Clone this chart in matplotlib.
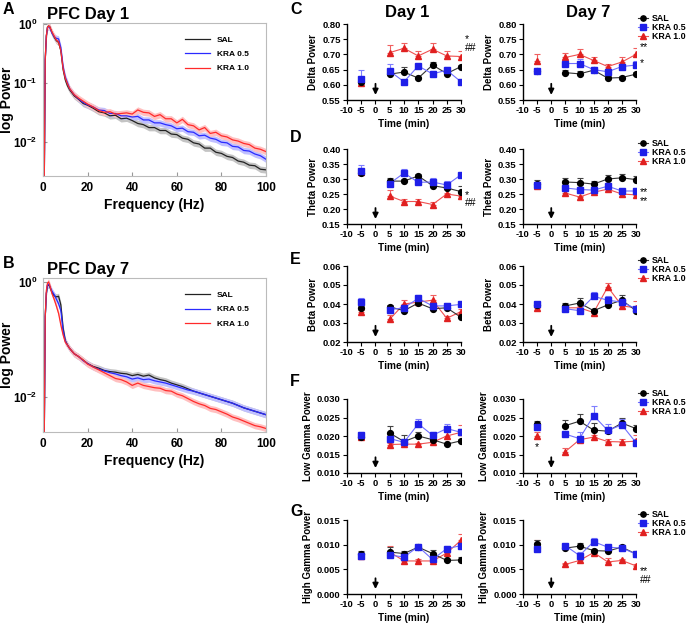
import numpy as np
import matplotlib.pyplot as plt
from matplotlib.lines import Line2D

plt.rcParams['font.family'] = ['Liberation Sans', 'DejaVu Sans']
plt.rcParams['font.weight'] = 'bold'
plt.rcParams['axes.labelweight'] = 'bold'
plt.rcParams['axes.unicode_minus'] = False
plt.rcParams['mathtext.fontset'] = 'custom'
plt.rcParams['mathtext.rm'] = 'Liberation Sans:bold'
plt.rcParams['mathtext.bf'] = 'Liberation Sans:bold'

# ---------------- spectra (log10 power) ----------------
freq = [0, 0.5, 1, 1.5, 2, 2.5, 3, 4, 5, 6, 7, 8, 9, 10, 11, 12, 14, 16, 18,
        20, 22.5, 25, 27.5, 30, 32.5, 35, 37.5, 40, 42.5, 45, 47.5, 50, 52.5, 55, 57.5,
        60, 62.5, 65, 67.5, 70, 72.5, 75, 77.5, 80, 82.5, 85, 87.5, 90, 92.5, 95, 97.5, 100]

d1_sal = [-3, -3, -0.6, -0.2, -0.05, -0.03, -0.04, -0.14, -0.22, -0.28, -0.31, -0.45, -0.77, -0.95, -1.05, -1.12, -1.22, -1.28, -1.35,
          -1.38, -1.43, -1.49, -1.51, -1.56, -1.55, -1.61, -1.6, -1.64, -1.69, -1.71, -1.76, -1.76, -1.81, -1.81, -1.87,
          -1.88, -1.94, -1.96, -2.02, -2.04, -2.11, -2.11, -2.18, -2.2, -2.25, -2.27, -2.33, -2.35, -2.4, -2.41, -2.47, -2.48]
d1_kra05 = [-3, -3, -0.6, -0.2, -0.06, -0.04, -0.05, -0.15, -0.21, -0.24, -0.25, -0.4, -0.72, -0.9, -1.0, -1.1, -1.2, -1.27, -1.33,
            -1.37, -1.41, -1.46, -1.47, -1.52, -1.52, -1.56, -1.56, -1.58, -1.57, -1.63, -1.63, -1.68, -1.68, -1.71, -1.73,
            -1.78, -1.77, -1.83, -1.84, -1.9, -1.89, -1.94, -1.96, -2.01, -2.02, -2.08, -2.09, -2.15, -2.16, -2.21, -2.24, -2.3]
d1_kra10 = [-3, -3, -0.6, -0.2, -0.05, -0.03, -0.04, -0.13, -0.2, -0.27, -0.3, -0.45, -0.75, -0.92, -1.02, -1.1, -1.2, -1.26, -1.31,
            -1.36, -1.41, -1.47, -1.5, -1.49, -1.53, -1.52, -1.51, -1.53, -1.46, -1.5, -1.51, -1.57, -1.54, -1.61, -1.61,
            -1.68, -1.62, -1.71, -1.73, -1.8, -1.76, -1.86, -1.84, -1.9, -1.92, -1.97, -1.99, -2.03, -2.05, -2.11, -2.13, -2.17]

d7_sal = [-3, -3, -0.6, -0.2, -0.06, -0.05, -0.08, -0.18, -0.24, -0.26, -0.25, -0.4, -0.8, -1.02, -1.1, -1.16, -1.25, -1.3, -1.36,
          -1.42, -1.47, -1.5, -1.54, -1.56, -1.57, -1.59, -1.6, -1.63, -1.61, -1.64, -1.62, -1.67, -1.7, -1.72, -1.76,
          -1.79, -1.82, -1.86, -1.9, -1.93, -1.96, -1.99, -2.02, -2.05, -2.08, -2.11, -2.15, -2.19, -2.22, -2.25, -2.28, -2.31]
d7_kra05 = [-3, -3, -0.6, -0.2, -0.05, -0.04, -0.07, -0.16, -0.22, -0.3, -0.38, -0.5, -0.85, -1.03, -1.1, -1.16, -1.25, -1.3, -1.37,
            -1.42, -1.48, -1.52, -1.55, -1.58, -1.6, -1.63, -1.65, -1.69, -1.67, -1.7, -1.69, -1.72, -1.74, -1.76, -1.79,
            -1.82, -1.85, -1.88, -1.9, -1.93, -1.96, -1.99, -2.02, -2.05, -2.08, -2.11, -2.15, -2.19, -2.22, -2.25, -2.28, -2.31]
d7_kra10 = [-3, -3, -0.6, -0.15, -0.02, 0.0, -0.05, -0.2, -0.3, -0.42, -0.55, -0.75, -0.92, -1.05, -1.1, -1.16, -1.25, -1.3, -1.36,
            -1.43, -1.48, -1.53, -1.58, -1.63, -1.68, -1.7, -1.74, -1.8, -1.76, -1.8, -1.82, -1.84, -1.85, -1.89, -1.9,
            -1.95, -1.98, -2.03, -2.08, -2.12, -2.15, -2.2, -2.22, -2.26, -2.3, -2.35, -2.38, -2.42, -2.46, -2.5, -2.52, -2.55]

# ---------------- time courses ----------------
times = [-5, 5, 10, 15, 20, 25, 30]
groups = ['SAL', 'KRA 0.5', 'KRA 1.0']

delta_d1 = {'SAL': [0.610, 0.635, 0.642, 0.622, 0.665, 0.637, 0.660],
            'KRA 0.5': [0.618, 0.645, 0.610, 0.662, 0.636, 0.648, 0.610],
            'KRA 1.0': [0.605, 0.706, 0.720, 0.695, 0.717, 0.695, 0.693]}
delta_d1_err = {'SAL': [0.010, 0.006, 0.018, 0.005, 0.010, 0.006, 0.006],
                'KRA 0.5': [0.030, 0.025, 0.005, 0.006, 0.008, 0.012, 0.004],
                'KRA 1.0': [0.005, 0.024, 0.017, 0.015, 0.022, 0.015, 0.017]}
delta_d7 = {'SAL': [0.645, 0.640, 0.636, 0.648, 0.622, 0.624, 0.635],
            'KRA 0.5': [0.645, 0.670, 0.670, 0.650, 0.643, 0.660, 0.665],
            'KRA 1.0': [0.678, 0.690, 0.700, 0.680, 0.660, 0.675, 0.700]}
delta_d7_err = {'SAL': [0.008, 0.008, 0.010, 0.008, 0.006, 0.006, 0.008],
                'KRA 0.5': [0.006, 0.012, 0.015, 0.008, 0.010, 0.010, 0.012],
                'KRA 1.0': [0.022, 0.014, 0.018, 0.010, 0.010, 0.015, 0.020]}

theta_d1 = {'SAL': [0.320, 0.293, 0.293, 0.310, 0.278, 0.270, 0.258],
            'KRA 0.5': [0.328, 0.285, 0.320, 0.289, 0.290, 0.280, 0.314],
            'KRA 1.0': [0.325, 0.243, 0.225, 0.225, 0.215, 0.250, 0.243]}
theta_d1_err = {'SAL': [0.010, 0.012, 0.006, 0.006, 0.006, 0.008, 0.018],
                'KRA 0.5': [0.020, 0.012, 0.015, 0.006, 0.012, 0.012, 0.005],
                'KRA 1.0': [0.010, 0.020, 0.008, 0.008, 0.010, 0.005, 0.010]}
theta_d7 = {'SAL': [0.283, 0.290, 0.288, 0.283, 0.300, 0.304, 0.298],
            'KRA 0.5': [0.280, 0.270, 0.265, 0.263, 0.276, 0.260, 0.260],
            'KRA 1.0': [0.276, 0.253, 0.240, 0.256, 0.266, 0.250, 0.247]}
theta_d7_err = {'SAL': [0.015, 0.015, 0.015, 0.010, 0.012, 0.012, 0.012],
                'KRA 0.5': [0.008, 0.010, 0.010, 0.006, 0.010, 0.008, 0.010],
                'KRA 1.0': [0.005, 0.006, 0.005, 0.005, 0.005, 0.005, 0.006]}

beta_d1 = {'SAL': [0.0380, 0.0385, 0.0365, 0.0405, 0.0375, 0.0380, 0.0330],
           'KRA 0.5': [0.0410, 0.0370, 0.0380, 0.0430, 0.0390, 0.0390, 0.0398],
           'KRA 1.0': [0.0360, 0.0320, 0.0400, 0.0410, 0.0420, 0.0325, 0.0360]}
beta_d1_err = {'SAL': [0.0010, 0.0008, 0.0010, 0.0010, 0.0008, 0.0010, 0.0006],
               'KRA 0.5': [0.0020, 0.0010, 0.0010, 0.0020, 0.0010, 0.0015, 0.0015],
               'KRA 1.0': [0.0010, 0.0020, 0.0020, 0.0010, 0.0030, 0.0010, 0.0015]}
beta_d7 = {'SAL': [0.0395, 0.0390, 0.0405, 0.0365, 0.0395, 0.0420, 0.0365],
           'KRA 0.5': [0.0400, 0.0375, 0.0365, 0.0440, 0.0420, 0.0410, 0.0375],
           'KRA 1.0': [0.0380, 0.0380, 0.0380, 0.0355, 0.0490, 0.0390, 0.0380]}
beta_d7_err = {'SAL': [0.0010, 0.0015, 0.0025, 0.0008, 0.0008, 0.0025, 0.0008],
               'KRA 0.5': [0.0010, 0.0008, 0.0008, 0.0025, 0.0020, 0.0010, 0.0008],
               'KRA 1.0': [0.0010, 0.0008, 0.0008, 0.0008, 0.0020, 0.0010, 0.0035]}

lowg_d1 = {'SAL': [0.0197, 0.0208, 0.0185, 0.0200, 0.0190, 0.0178, 0.0187],
           'KRA 0.5': [0.0203, 0.0193, 0.0183, 0.0233, 0.0202, 0.0220, 0.0210],
           'KRA 1.0': [0.0198, 0.0177, 0.0178, 0.0178, 0.0183, 0.0200, 0.0210]}
lowg_d1_err = {'SAL': [0.0005, 0.0020, 0.0018, 0.0010, 0.0010, 0.0004, 0.0004],
               'KRA 0.5': [0.0008, 0.0005, 0.0005, 0.0013, 0.0008, 0.0013, 0.0010],
               'KRA 1.0': [0.0005, 0.0004, 0.0004, 0.0004, 0.0004, 0.0015, 0.0020]}
lowg_d7 = {'SAL': [0.0232, 0.0228, 0.0240, 0.0216, 0.0213, 0.0235, 0.0220],
           'KRA 0.5': [0.0225, 0.0205, 0.0193, 0.0255, 0.0215, 0.0230, 0.0182],
           'KRA 1.0': [0.0200, 0.0158, 0.0190, 0.0197, 0.0185, 0.0184, 0.0186]}
lowg_d7_err = {'SAL': [0.0008, 0.0015, 0.0020, 0.0020, 0.0010, 0.0015, 0.0010],
               'KRA 0.5': [0.0006, 0.0008, 0.0018, 0.0025, 0.0018, 0.0015, 0.0010],
               'KRA 1.0': [0.0010, 0.0010, 0.0005, 0.0005, 0.0008, 0.0007, 0.0017]}

highg_d1 = {'SAL': [0.0082, 0.0085, 0.0082, 0.0095, 0.0082, 0.0068, 0.0069],
            'KRA 0.5': [0.0078, 0.0079, 0.0075, 0.0096, 0.0070, 0.0092, 0.0098],
            'KRA 1.0': [0.0078, 0.0085, 0.0067, 0.0067, 0.0067, 0.0083, 0.0109]}
highg_d1_err = {'SAL': [0.0005, 0.0010, 0.0005, 0.0005, 0.0007, 0.0003, 0.0006],
                'KRA 0.5': [0.0004, 0.0004, 0.0008, 0.0005, 0.0004, 0.0006, 0.0006],
                'KRA 1.0': [0.0003, 0.0012, 0.0003, 0.0003, 0.0003, 0.0005, 0.0012]}
highg_d7 = {'SAL': [0.0102, 0.0093, 0.0097, 0.0088, 0.0087, 0.0095, 0.0081],
            'KRA 0.5': [0.0091, 0.0098, 0.0078, 0.0106, 0.0095, 0.0093, 0.0081],
            'KRA 1.0': [0.0099, 0.0060, 0.0068, 0.0084, 0.0065, 0.0068, 0.0057]}
highg_d7_err = {'SAL': [0.0007, 0.0004, 0.0007, 0.0004, 0.0004, 0.0005, 0.0003],
                'KRA 0.5': [0.0004, 0.0004, 0.0007, 0.0008, 0.0005, 0.0004, 0.0003],
                'KRA 1.0': [0.0010, 0.0003, 0.0004, 0.0004, 0.0007, 0.0003, 0.0003]}

# significance marks: (x, y, text)
marks_delta_d1 = [(31.5, 0.750, '*'), (31.5, 0.722, '##')]
marks_delta_d7 = [(31.5, 0.724, '**'), (31.5, 0.672, '*')]
marks_theta_d1 = [(31.5, 0.245, '*'), (31.5, 0.219, '##')]
marks_theta_d7 = [(31.5, 0.258, '**'), (31.5, 0.228, '**')]
marks_lowg_d7 = [(-5, 0.0170, '*')]
marks_highg_d7 = [(31.5, 0.0047, '**'), (31.5, 0.0029, '##')]

W, H = 691, 625
fig = plt.figure(figsize=(W / 100, H / 100), dpi=100)


def box(left, top, right, bottom):
    return [left / W, 1 - bottom / H, (right - left) / W, (bottom - top) / H]


spec_colors = {'SAL': '#222222', 'KRA 0.5': '#2a2aff', 'KRA 1.0': '#ff2a2a'}
band_colors = {'SAL': '#c4c4c4', 'KRA 0.5': '#c0c0ff', 'KRA 1.0': '#ffc0c0'}


def draw_spectrum(ax, series, yticks, title):
    f = np.array(freq)
    for g in groups:
        p = 10 ** np.array(series[g])
        ax.fill_between(f, p * 0.88, p * 1.13, color=band_colors[g], lw=0)
        ax.plot(f, p, color=spec_colors[g], lw=0.9, label=g)
    ax.set_yscale('log')
    ax.set_xlim(0, 100)
    ax.set_xticks([0, 20, 40, 60, 80, 100])
    ax.set_yticks(yticks)
    ax.set_yticklabels([r'$10^{%d}$' % int(np.log10(v)) for v in yticks])
    ax.minorticks_off()
    ax.tick_params(direction='in', labelsize=8.5, length=3, color='#999999', pad=4)
    for s in ax.spines.values():
        s.set_color('#bbbbbb')
        s.set_linewidth(0.8)
    ax.set_xlabel('Frequency (Hz)', fontsize=10, labelpad=3)
    ax.set_ylabel('log Power', fontsize=10)
    ax.yaxis.set_label_coords(-0.128, 0.5)
    ax.set_title(title, loc='left', fontsize=12, fontweight='bold', pad=3, x=0.02)
    ax.legend(loc='upper right', bbox_to_anchor=(0.95, 0.95), frameon=False, fontsize=6,
              handlelength=3.0, labelspacing=0.75, borderpad=0.2)


axA = fig.add_axes(box(43, 23, 266, 176))
draw_spectrum(axA, {'SAL': d1_sal, 'KRA 0.5': d1_kra05, 'KRA 1.0': d1_kra10},
              [1e-2, 1e-1, 1e0], 'PFC Day 1')
axA.set_ylim(0.0026, 1.05)

axB = fig.add_axes(box(43, 278, 266, 432))
draw_spectrum(axB, {'SAL': d7_sal, 'KRA 0.5': d7_kra05, 'KRA 1.0': d7_kra10},
              [1e-2, 1e0], 'PFC Day 7')
axB.set_ylim(0.00245, 1.17)

# time-course panels
mk = {'SAL': 'o', 'KRA 0.5': 's', 'KRA 1.0': '^'}
mcol = {'SAL': 'black', 'KRA 0.5': '#1f1fe8', 'KRA 1.0': '#e02020'}
lcol = {'SAL': '#333333', 'KRA 0.5': '#6f6fff', 'KRA 1.0': '#f05050'}
ecol = {'SAL': '#444444', 'KRA 0.5': '#7f7fff', 'KRA 1.0': '#f06060'}
msz = {'SAL': 4.2, 'KRA 0.5': 4.2, 'KRA 1.0': 4.0}


def draw_time(ax, means, errs, ylim, yticks, fmt, ylabel, marks, legend):
    t = np.array(times)
    for g in ['KRA 1.0', 'SAL', 'KRA 0.5']:
        m = np.array(means[g])
        e = np.array(errs[g])
        ax.errorbar(t, m, yerr=[np.zeros_like(e), e], fmt='none', ecolor=ecol[g],
                    elinewidth=0.8, capsize=2.2, capthick=0.8, zorder=2)
        ax.plot(t[1:], m[1:], '-', color=lcol[g], lw=0.8, zorder=3)
        ax.plot(t, m, ls='none', marker=mk[g], color=mcol[g], ms=msz[g], zorder=4)
    ax.set_xlim(-10, 30)
    ax.set_ylim(*ylim)
    ax.set_xticks(range(-10, 31, 5))
    ax.set_yticks(yticks)
    ax.set_yticklabels([fmt % v for v in yticks])
    ax.spines['top'].set_visible(False)
    ax.spines['right'].set_visible(False)
    for s in ['left', 'bottom']:
        ax.spines[s].set_linewidth(1.0)
    ax.tick_params(direction='out', length=3, width=0.8, labelsize=6.8, pad=1.5)
    ax.set_xlabel('Time (min)', fontsize=7.3, labelpad=2.5)
    ax.set_ylabel(ylabel, fontsize=7, labelpad=3)
    ax.annotate('', xy=(0, 0.03), xytext=(0, 0.25), xycoords=('data', 'axes fraction'),
                arrowprops=dict(arrowstyle='-|>', color='black', lw=1.3, mutation_scale=8))
    for x, y, s in marks:
        ax.text(x, y, s, fontsize=7.5, fontweight='normal', ha='left' if x > 0 else 'center',
                va='center', clip_on=False)
    if legend:
        handles = [Line2D([], [], color=lcol[g], lw=0.8, marker=mk[g], mfc=mcol[g],
                          mec=mcol[g], ms=3.8) for g in groups]
        ax.legend(handles, groups, loc='upper left', bbox_to_anchor=(1.0, 1.16), frameon=False,
                  fontsize=6.4, handlelength=1.2, handletextpad=0.35, labelspacing=0.0,
                  borderpad=0, borderaxespad=0.2)


rows = [(24, 100), (149, 224), (266, 342), (399, 473), (520, 594)]
panels = [
    ('Delta Power', delta_d1, delta_d1_err, delta_d7, delta_d7_err, (0.55, 0.80),
     np.arange(0.55, 0.801, 0.05), '%.2f', marks_delta_d1, marks_delta_d7),
    ('Theta Power', theta_d1, theta_d1_err, theta_d7, theta_d7_err, (0.15, 0.40),
     np.arange(0.15, 0.401, 0.05), '%.2f', marks_theta_d1, marks_theta_d7),
    ('Beta Power', beta_d1, beta_d1_err, beta_d7, beta_d7_err, (0.02, 0.06),
     np.arange(0.02, 0.0601, 0.01), '%.2f', [], []),
    ('Low Gamma Power', lowg_d1, lowg_d1_err, lowg_d7, lowg_d7_err, (0.010, 0.030),
     np.arange(0.010, 0.0301, 0.005), '%.3f', [], marks_lowg_d7),
    ('High Gamma Power', highg_d1, highg_d1_err, highg_d7, highg_d7_err, (0.0, 0.015),
     np.arange(0.0, 0.01501, 0.005), '%.3f', [], marks_highg_d7),
]

for (top, bot), (lab, m1, e1, m7, e7, yl, yt, fmt, mk1, mk7) in zip(rows, panels):
    a1 = fig.add_axes(box(347, top, 461, bot))
    draw_time(a1, m1, e1, yl, yt, fmt, lab, mk1, False)
    a7 = fig.add_axes(box(523, top, 636, bot))
    draw_time(a7, m7, e7, yl, yt, fmt, lab, mk7, True)

fig.text(407 / W, 1 - 13 / H, 'Day 1', fontsize=12, fontweight='bold', ha='center', va='center')
fig.text(588 / W, 1 - 13 / H, 'Day 7', fontsize=12, fontweight='bold', ha='center', va='center')

for letter, x, y in [('A', 3, 9), ('B', 3, 263), ('C', 290, 9), ('D', 290, 137),
                     ('E', 290, 259), ('F', 290, 381), ('G', 290, 511)]:
    fig.text(x / W, 1 - y / H, letter, fontsize=11.5, fontweight='bold', ha='left', va='center')

fig.savefig('out.png', dpi=100)
